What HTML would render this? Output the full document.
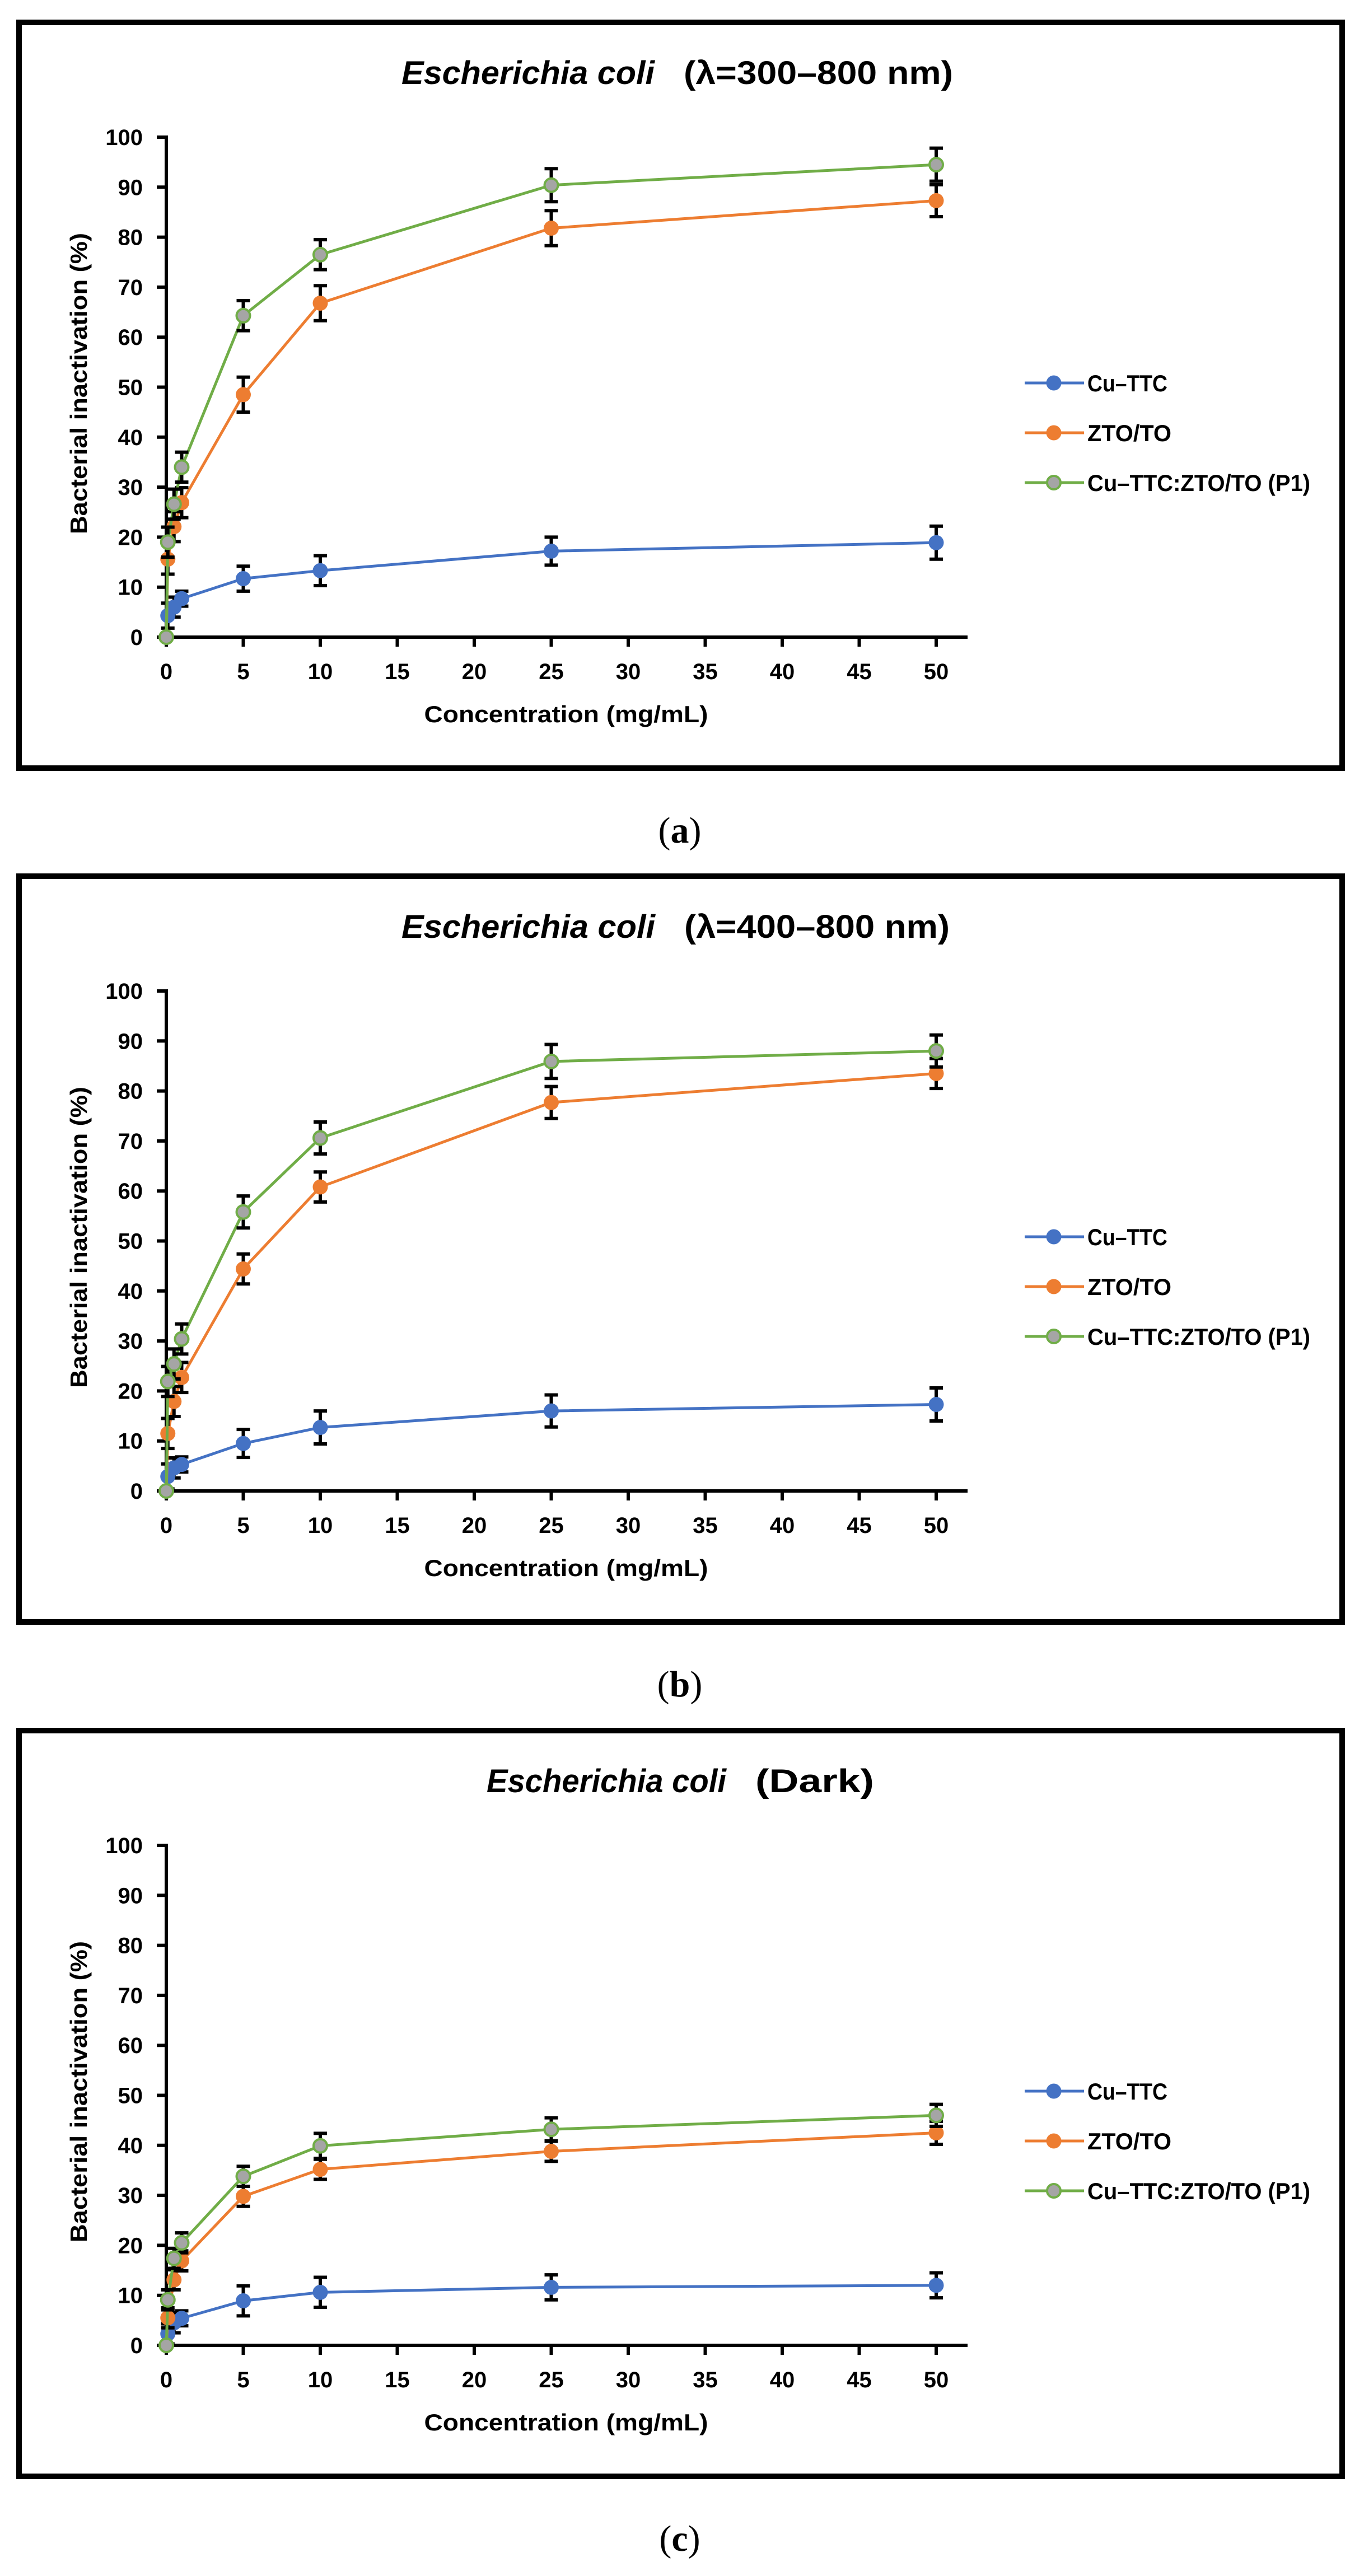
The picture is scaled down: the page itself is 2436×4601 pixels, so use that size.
<!DOCTYPE html>
<html>
<head>
<meta charset="utf-8">
<style>
html,body{margin:0;padding:0;background:#fff;}
svg{display:block;}
</style>
</head>
<body>
<svg id="fig" xmlns="http://www.w3.org/2000/svg" width="2436" height="4601" viewBox="0 0 2436 4601">
<rect x="0" y="0" width="2436" height="4601" fill="#fff"/>
</svg>
<script>
// ---- data ----
const concentrations = [0, 0.1, 0.5, 1, 5, 10, 25, 50];
const panelTitles = ["(λ=300–800 nm)", "(λ=400–800 nm)", "(Dark)"];
const panelCaptions = ["a", "b", "c"];
const seriesNames = ["Cu–TTC", "ZTO/TO", "Cu–TTC:ZTO/TO (P1)"];
const yTicks = [0, 10, 20, 30, 40, 50, 60, 70, 80, 90, 100];
const xTicks = [0, 5, 10, 15, 20, 25, 30, 35, 40, 45, 50];

const aCuTTC = [0, 4.3, 6.0, 7.7, 11.7, 13.3, 17.2, 18.9];
const aZTO   = [0, 15.6, 22.1, 26.9, 48.5, 66.8, 81.8, 87.3];
const aP1    = [0, 19.0, 26.6, 34.0, 64.3, 76.5, 90.4, 94.5];
const aErrCuTTC = [0, 2.5, 2, 1.5, 2.5, 3, 2.8, 3.3];
const aErrZTO   = [0, 3, 3, 3, 3.5, 3.5, 3.5, 3.2];
const aErrP1    = [0, 3, 3, 3, 3, 3, 3.3, 3.3];

const bCuTTC = [0, 2.9, 4.6, 5.3, 9.5, 12.7, 16.0, 17.3];
const bZTO   = [0, 11.5, 17.9, 22.7, 44.4, 60.8, 77.7, 83.5];
const bP1    = [0, 21.9, 25.4, 30.4, 55.8, 70.6, 85.9, 88.0];
const bErrCuTTC = [0, 2.5, 2, 1.5, 2.8, 3.3, 3.2, 3.3];
const bErrZTO   = [0, 3, 3, 3, 3, 3, 3.2, 3];
const bErrP1    = [0, 3, 3, 3, 3.2, 3.2, 3.4, 3.2];

const cCuTTC = [0, 2.3, 4.5, 5.4, 8.9, 10.6, 11.6, 12.0];
const cZTO   = [0, 5.5, 13.1, 16.9, 29.8, 35.2, 38.8, 42.5];
const cP1    = [0, 9.1, 17.4, 20.5, 33.8, 39.9, 43.2, 46.0];
const cErrCuTTC = [0, 2, 2, 1.5, 3, 3, 2.5, 2.5];
const cErrZTO   = [0, 2, 2, 2, 2, 2, 2, 2.3];
const cErrP1    = [0, 2, 2, 2, 2, 2.5, 2.3, 2.2];

const panelValues = [[aCuTTC, aZTO, aP1], [bCuTTC, bZTO, bP1], [cCuTTC, cZTO, cP1]];
const panelErrors = [[aErrCuTTC, aErrZTO, aErrP1], [bErrCuTTC, bErrZTO, bErrP1], [cErrCuTTC, cErrZTO, cErrP1]];

// ---- drawing ----
const NS = "http://www.w3.org/2000/svg";
const svg = document.getElementById("fig");
const colors = ["#4472c4", "#ed7d31", "#70ad47"];
const SANS = '"Liberation Sans", "DejaVu Sans", sans-serif';
const SERIF = '"Liberation Serif", serif';

function mk(tag, attrs, parent) {
  const e = document.createElementNS(NS, tag);
  for (const k in attrs) e.setAttribute(k, attrs[k]);
  (parent || svg).appendChild(e);
  return e;
}
const X0 = 297, XPER = 27.5;
function xs(v) { return X0 + v * XPER; }
function ysF(off) { return v => off + 1138 - v * 8.93; }

const offsets = [0, 1525, 3051];
const titleW = [[452, 481], [453, 474], [428, 212]];

offsets.forEach((off, p) => {
  const ys = ysF(off);
  const g = mk("g", {});
  
  

  const frame = mk("rect", {x: 34, y: off + 40, width: 2363, height: 1332, fill: "none", stroke: "#000", "stroke-width": 10}, g);
  
  

  const tStart = p === 2 ? 869 : 717;
  const t1 = mk("text", {x: tStart, y: off + 150, "font-family": SANS, "font-size": 58, "font-weight": "bold", "font-style": "italic", textLength: titleW[p][0], lengthAdjust: "spacingAndGlyphs"}, g);
  t1.textContent = "Escherichia coli";
  
  
  const t2 = mk("text", {x: tStart + titleW[p][0] + 52, y: off + 150, "font-family": SANS, "font-size": 58, "font-weight": "bold", textLength: titleW[p][1], lengthAdjust: "spacingAndGlyphs"}, g);
  t2.textContent = panelTitles[p];
  
  

  yTicks.forEach(v => {
    const tk = mk("line", {x1: X0 - 17, x2: X0, y1: ys(v), y2: ys(v), stroke: "#000", "stroke-width": 6}, g);
    
    
    const lb = mk("text", {x: 255, y: ys(v) + 14, "text-anchor": "end", "font-family": SANS, "font-size": 40, "font-weight": "bold"}, g);
    lb.textContent = v;
    
    
  });
  xTicks.forEach(v => {
    const tk = mk("line", {x1: xs(v), x2: xs(v), y1: ys(0), y2: ys(0) + 17, stroke: "#000", "stroke-width": 6}, g);
    
    
    const lb = mk("text", {x: xs(v), y: ys(0) + 75, "text-anchor": "middle", "font-family": SANS, "font-size": 40, "font-weight": "bold"}, g);
    lb.textContent = v;
    
    
  });
  const ya = mk("line", {x1: X0, x2: X0, y1: ys(100) - 3, y2: ys(0) + 3, stroke: "#000", "stroke-width": 6}, g);
  
  
  const xa = mk("line", {x1: X0 - 3, x2: 1728, y1: ys(0), y2: ys(0), stroke: "#000", "stroke-width": 6}, g);
  
  

  const xt = mk("text", {x: 1011, y: ys(0) + 152, "text-anchor": "middle", "font-family": SANS, "font-size": 42, "font-weight": "bold", textLength: 507, lengthAdjust: "spacingAndGlyphs"}, g);
  xt.textContent = "Concentration (mg/mL)";
  
  
  const ycy = ys(0) - 453;
  const yt = mk("text", {x: 0, y: 0, transform: "translate(155," + ycy + ") rotate(-90)", "text-anchor": "middle", "font-family": SANS, "font-size": 42, "font-weight": "bold", textLength: 538, lengthAdjust: "spacingAndGlyphs"}, g);
  yt.textContent = "Bacterial inactivation (%)";
  
  

  panelValues[p].forEach((vals, s) => {
    const sg = mk("g", {}, g);
    
    
    const pts = concentrations.map((c, i) => xs(c) + "," + ys(vals[i])).join(" ");
    const pl = mk("polyline", {points: pts, fill: "none", stroke: colors[s], "stroke-width": 5, "stroke-linejoin": "round"}, sg);
    
    
    concentrations.forEach((c, i) => {
      const e = panelErrors[p][s][i];
      if (e > 0) {
        const x = xs(c), yTop = ys(vals[i] + e), yBot = ys(vals[i] - e);
        const eb = mk("path", {d: "M" + x + "," + yTop + "V" + yBot + "M" + (x - 12) + "," + yTop + "H" + (x + 12) + "M" + (x - 12) + "," + yBot + "H" + (x + 12), stroke: "#000", "stroke-width": 6, fill: "none"}, sg);
        
        
      }
    });
    concentrations.forEach((c, i) => {
      const attrs = s === 2
        ? {cx: xs(c), cy: ys(vals[i]), r: 12, fill: "#a5a5a5", stroke: colors[2], "stroke-width": 4}
        : {cx: xs(c), cy: ys(vals[i]), r: 13.5, fill: colors[s]};
      const m = mk("circle", attrs, sg);
      
      
    });
  });

  const lw = [143, 150, 398];
  seriesNames.forEach((n, s) => {
    const ly = off + 684 + s * 89;
    const lg = mk("g", {}, g);
    
    
    mk("line", {x1: 1830, x2: 1936, y1: ly, y2: ly, stroke: colors[s], "stroke-width": 5}, lg);
    if (s === 2) mk("circle", {cx: 1882, cy: ly, r: 12, fill: "#a5a5a5", stroke: colors[2], "stroke-width": 4}, lg);
    else mk("circle", {cx: 1882, cy: ly, r: 13.5, fill: colors[s]}, lg);
    const lt = mk("text", {x: 1942, y: ly + 15, "font-family": SANS, "font-size": 42, "font-weight": "bold", textLength: lw[s], lengthAdjust: "spacingAndGlyphs"}, lg);
    lt.textContent = n;
  });

  const cap = mk("text", {x: 1214, y: off + 1505, "text-anchor": "middle", "font-family": SERIF, "font-size": 66}, g);
  
  
  const s1 = mk("tspan", {}, cap); s1.textContent = "(";
  const s2 = mk("tspan", {"font-weight": "bold"}, cap); s2.textContent = panelCaptions[p];
  const s3 = mk("tspan", {}, cap); s3.textContent = ")";
});
</script>
</body>
</html>
